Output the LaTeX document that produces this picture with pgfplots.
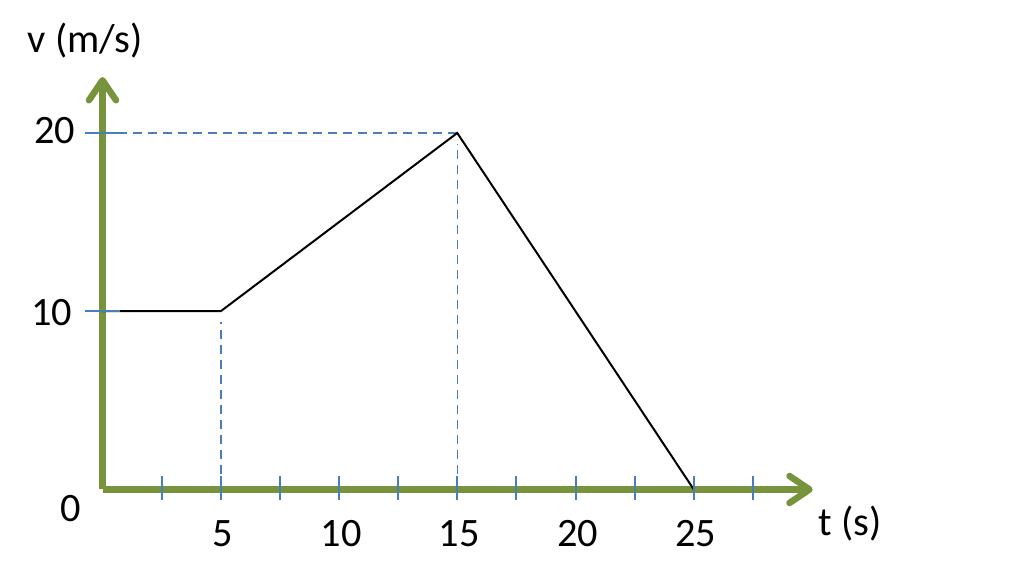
\documentclass[border=0pt]{standalone}
\usepackage{pgfplots}
\pgfplotsset{compat=1.18}
\usetikzlibrary{arrows.meta}
\usepackage{fontspec}
\setmainfont{Carlito}
\definecolor{axgreen}{HTML}{77933C}
\definecolor{tickblue}{HTML}{4A7EBB}
\begin{document}
\begin{tikzpicture}
\begin{axis}[
  scale only axis, width=1014bp, height=579bp,
  xmin=-4.334, xmax=38.54, ymin=-5.021, ymax=27.46,
  axis lines=none, clip=false,
]
\path (rel axis cs:0,0) rectangle (rel axis cs:1,1);
% dashed guide lines
\addplot[tickblue, line width=1.5bp, dash pattern=on 9bp off 6bp] coordinates {(0,20) (15,20)};
\addplot[tickblue, line width=1.5bp, dash pattern=on 9bp off 6bp] coordinates {(15.02,0) (15.02,19.4)};
\addplot[tickblue, line width=1.5bp, dash pattern=on 9bp off 6bp] coordinates {(5,0) (5,9.4)};
% axes
\draw[axgreen, line width=6.5bp, -{Straight Barb[length=20bp,width=27bp,round]}] (axis cs:0,0) -- (axis cs:0,23.14);
\draw[axgreen, line width=6.5bp, -{Straight Barb[length=20bp,width=27bp,round]}] (axis cs:0,0) -- (axis cs:30.03,0);
% velocity profile
\addplot[black, line width=2bp] coordinates {(0,10) (5,10) (15,20) (25,0)};
% ticks
\pgfplotsinvokeforeach{2.5,5,...,27.5}{
  \draw[tickblue, line width=2bp] ([yshift=13bp]axis cs:#1,0) -- ([yshift=-11bp]axis cs:#1,0);
}
\draw[tickblue, line width=2bp] ([xshift=-18bp]axis cs:0,10) -- ([xshift=17bp]axis cs:0,10);
\draw[tickblue, line width=2bp] ([xshift=-18bp]axis cs:0,20) -- ([xshift=17bp]axis cs:0,20);
% labels
\begin{scope}[every node/.style={font=\fontsize{40.5}{48}\selectfont, inner sep=0pt}]
\node at (axis cs:-1.33,-1.09) {0};
\pgfplotsinvokeforeach{5,10,15,20,25}{
  \node at ([xshift=2bp]axis cs:#1,-2.47) {#1};
}
\node[anchor=east] at ([xshift=-27bp,yshift=2bp]axis cs:0,20) {20};
\node[anchor=east] at ([xshift=-30bp,yshift=-1bp]axis cs:0,10) {10};
\node at (axis cs:-0.74,25.16) {v (m/s)};
\node at (axis cs:31.6,-1.91) {t (s)};
\end{scope}
\end{axis}
\end{tikzpicture}
\end{document}
